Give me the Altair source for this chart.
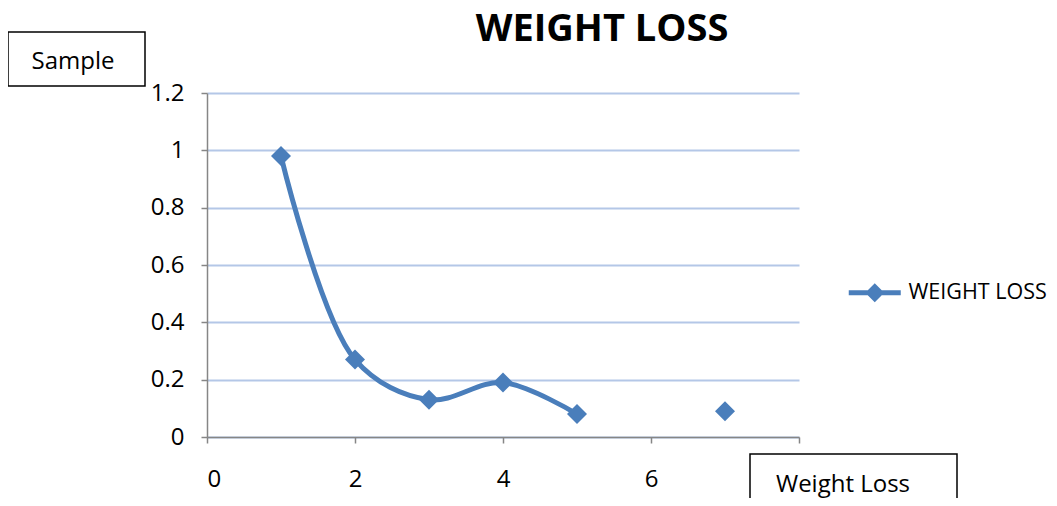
import altair as alt
import pandas as pd

# data
x_vals = [1, 2, 3, 4, 5, 6, 7]
y_vals = [0.98, 0.27, 0.13, 0.19, 0.08, None, 0.09]
series = ["WEIGHT LOSS"] * len(x_vals)

df = pd.DataFrame({"x": x_vals, "y": y_vals, "series": series})

BLUE = "#4A7EBB"
FONT = "Open Sans"

legend_path = ("M -2.6 -0.24 H 2.6 V 0.24 H -2.6 Z "
               "M -0.95 0 L 0 -0.95 L 0.95 0 L 0 0.95 Z")

color = alt.Color(
    "series:N",
    scale=alt.Scale(range=[BLUE]),
    legend=alt.Legend(
        title=None, orient="none", legendX=657, legendY=189,
        symbolType=legend_path, symbolSize=400,
        symbolFillColor=BLUE, symbolStrokeWidth=0,
        labelFont=FONT, labelFontSize=21.5, labelColor="black",
        labelOffset=23, labelLimit=300, padding=0,
    ),
)

xs = alt.X("x:Q", scale=alt.Scale(domain=[0, 8], nice=False),
           axis=alt.Axis(values=[0, 2, 4, 6, 8], title=None, grid=False,
                         labelExpr="datum.value == 8 ? '' : datum.label",
                         labelFont=FONT, labelFontSize=24, labelColor="black",
                         labelPadding=24, tickSize=6, tickColor="#868686",
                         domainColor="#868686", domainWidth=1.5, tickWidth=1.5))
ys = alt.Y("y:Q", scale=alt.Scale(domain=[0, 1.2], nice=False),
           axis=alt.Axis(values=[0, 0.2, 0.4, 0.6, 0.8, 1.0, 1.2], title=None,
                         format="~g",
                         labelFont=FONT, labelFontSize=24, labelColor="black",
                         labelPadding=17, tickSize=6, tickColor="#868686",
                         domainColor="#868686", domainWidth=1.5, tickWidth=1.5,
                         gridColor="#B4C7E7", gridWidth=2))

line = alt.Chart(df).mark_line(interpolate="catmull-rom", strokeWidth=5).encode(
    x=xs, y=ys, color=color)
pts = alt.Chart(df).mark_point(shape="diamond", filled=True, size=400, opacity=1).encode(
    x=xs, y=ys, color=color)

title_df = pd.DataFrame({"label": ["WEIGHT LOSS"]})
title = alt.Chart(title_df).mark_text(font=FONT, fontSize=38, fontWeight="bold",
                                      color="black", clip=False).encode(
    x=alt.value(395), y=alt.value(-63), text="label:N")

box_df = pd.DataFrame({"label": ["Sample"]})
sample_box = alt.Chart(box_df).mark_rect(fill="white", stroke="black", strokeWidth=1.5, clip=False).encode(
    x=alt.value(-199), x2=alt.value(-62), y=alt.value(-61), y2=alt.value(-7))
sample_txt = alt.Chart(box_df).mark_text(font=FONT, fontSize=24, color="black", clip=False).encode(
    x=alt.value(-134), y=alt.value(-31), text="label:N")

wl_df = pd.DataFrame({"label": ["Weight Loss"]})
wl_box = alt.Chart(wl_df).mark_rect(fill="white", stroke="black", strokeWidth=1.5, clip=False).encode(
    x=alt.value(543), x2=alt.value(750), y=alt.value(361), y2=alt.value(440))
wl_txt = alt.Chart(wl_df).mark_text(font=FONT, fontSize=24, color="black", clip=False).encode(
    x=alt.value(636), y=alt.value(392), text="label:N")

chart = alt.layer(line, pts, title, sample_box, sample_txt, wl_box, wl_txt).properties(
    width=592, height=344,
    view=alt.ViewBackground(stroke="transparent", strokeWidth=0),
    autosize=alt.AutoSizeParams(type="none"),
    padding={"left": 199, "top": 85, "right": 250, "bottom": 61},
).configure_view(strokeWidth=0, stroke="transparent").configure(background="white")

chart.save("out.html", embed_options={"renderer": "svg", "actions": False})
